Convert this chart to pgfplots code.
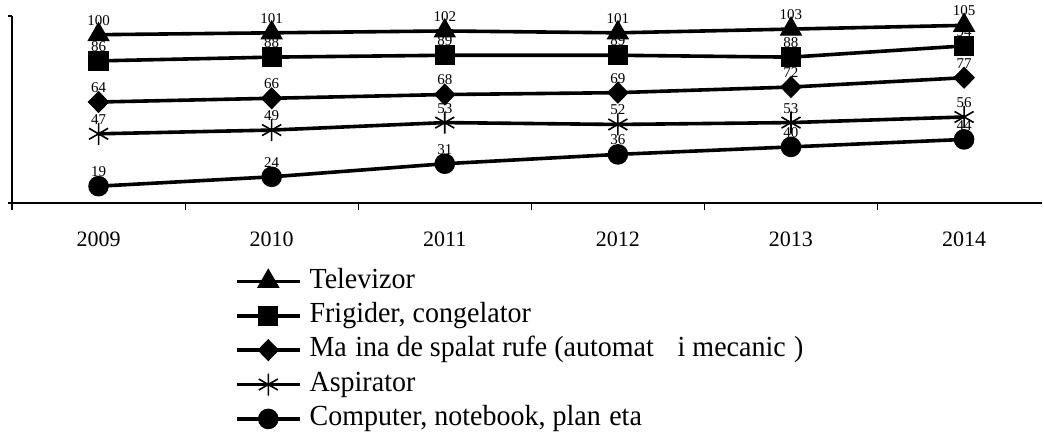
\documentclass[border=0pt]{standalone}
\usepackage{fontspec}
\setmainfont{Liberation Serif}
\usepackage{graphicx}
\usepackage{pgfplots}
\pgfplotsset{compat=1.18}
\newcommand{\legtxt}[1]{\scalebox{1}[1.04]{#1}}
\begin{document}
\begin{tikzpicture}
\begin{axis}[
  at={(0,0)}, anchor=south west,
  scale only axis, width=515pt, height=93.5pt,
  xmin=-0.5, xmax=5.45, ymin=10, ymax=110,
  clip=false,
  axis x line*=bottom, axis y line*=left,
  axis line style={line width=0.6pt, -},
  xtick={0,1,2,3,4,5},
  xticklabels={2009,2010,2011,2012,2013,2014},
  major x tick style={draw=none},
  minor xtick={-0.5,0.5,1.5,2.5,3.5,4.5},
  minor tick length=3.5pt,
  minor x tick style={line width=0.6pt, black},
  tick align=outside,
  ytick={10,110}, yticklabels={,},
  major tick length=1.8pt,
  ytick style={line width=0.6pt, black},
  xticklabel style={font=\fontsize{11}{13}\selectfont, anchor=center, inner sep=0pt, yshift=-16.5pt},
  /pgf/number format/assume math mode=true,
  every node near coord/.append style={font=\fontsize{7.5}{9}\selectfont, anchor=south, inner sep=0pt, yshift=4.5pt, text=black},
  legend style={at={(0.2165,-0.345)}, anchor=north west, draw=none, fill=none,
    inner sep=0pt, outer sep=0pt,
    font=\fontsize{14}{17}\selectfont,
    nodes={text height=10.3pt, text depth=3.5pt, inner sep=0pt},
    row sep=3.4pt,
    /tikz/every odd column/.append style={column sep=4pt}},
  legend cell align=left,
  legend image code/.code={\draw[mark repeat=2, mark phase=2] plot coordinates {(0pt,0pt) (15.75pt,0pt) (31.5pt,0pt)};},
]
% labels (behind markers)
\addplot[draw=none, mark=none, forget plot, nodes near coords] coordinates {(0,100) (1,101) (2,102) (3,101) (4,103) (5,105)};
\addplot[draw=none, mark=none, forget plot, nodes near coords] coordinates {(0,86) (1,88) (2,89) (3,89) (4,88) (5,94)};
\addplot[draw=none, mark=none, forget plot, nodes near coords] coordinates {(0,64) (1,66) (2,68) (3,69) (4,72) (5,77)};
\addplot[draw=none, mark=none, forget plot, nodes near coords] coordinates {(0,47) (1,49) (2,53) (3,52) (4,53) (5,56)};
\addplot[draw=none, mark=none, forget plot, nodes near coords] coordinates {(0,19) (1,24) (2,31) (3,36) (4,40) (5,44)};
% series
\addplot[black, line width=1.8pt, mark=triangle*, mark size=6pt, mark options={line width=0.5pt}] coordinates {(0,100) (1,101) (2,102) (3,101) (4,103) (5,105)};
\addlegendentry{\legtxt{Televizor}}
\addplot[black, line width=1.8pt, mark=square*, mark size=4.8pt, mark options={line width=0.5pt}] coordinates {(0,86) (1,88) (2,89) (3,89) (4,88) (5,94)};
\addlegendentry{\legtxt{Frigider, congelator}}
\addplot[black, line width=1.8pt, mark=diamond*, mark size=5.2pt, mark options={line width=0.5pt, xscale=1.3}] coordinates {(0,64) (1,66) (2,68) (3,69) (4,72) (5,77)};
\addlegendentry{\legtxt{Ma\hspace{0.3em}ina de spalat rufe (automat\hspace{0.3em} \hspace{0.3em}i mecanic\hspace{0.3em})}}
\addplot[black, line width=1.8pt, mark=asterisk, mark size=5.5pt, mark options={line width=0.8pt}] coordinates {(0,47) (1,49) (2,53) (3,52) (4,53) (5,56)};
\addlegendentry{\legtxt{Aspirator}}
\addplot[black, line width=1.8pt, mark=*, mark size=4.9pt, mark options={line width=0.5pt}] coordinates {(0,19) (1,24) (2,31) (3,36) (4,40) (5,44)};
\addlegendentry{\legtxt{Computer, notebook, plan\hspace{0.3em}eta}}
\end{axis}
\pgfresetboundingbox
\path[use as bounding box] (-6pt,-115pt) rectangle (516pt,101.5pt);
\end{tikzpicture}
\end{document}
